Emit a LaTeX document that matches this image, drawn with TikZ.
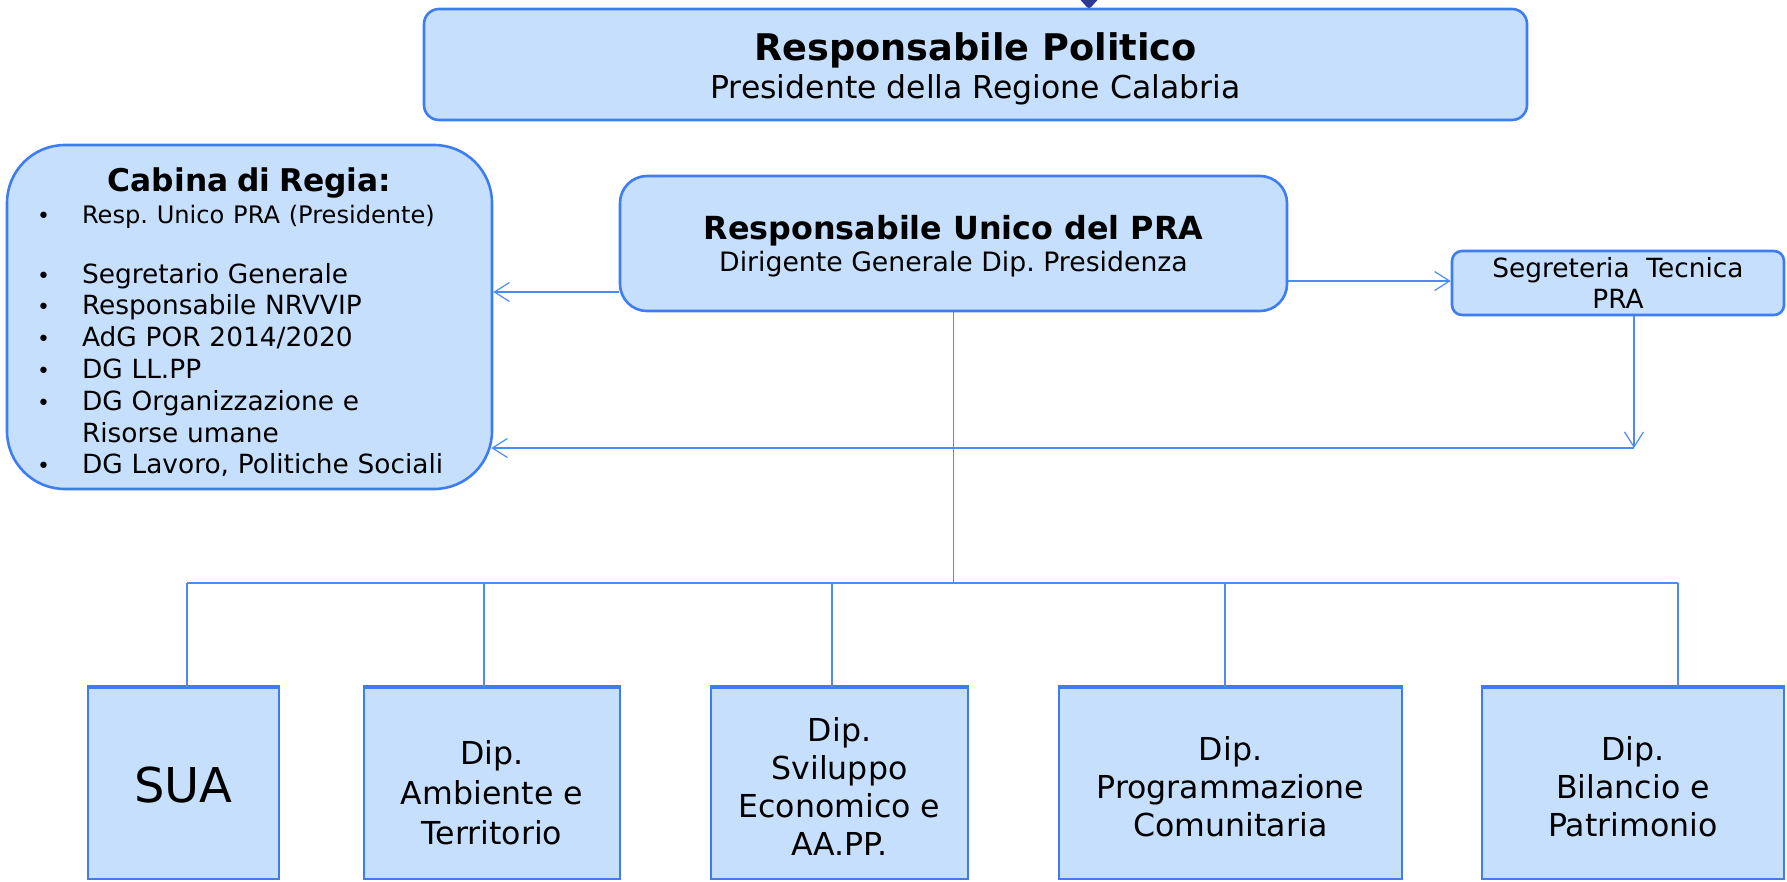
\documentclass[tikz,border=0pt]{standalone}
\usepackage{fontspec}
\setmainfont{DejaVu Sans}
\usepackage{xcolor}
\usepackage{tikz}
\usetikzlibrary{arrows.meta}
\definecolor{bordo}{RGB}{62,125,240}
\definecolor{riemp}{RGB}{197,223,252}
\definecolor{linea}{RGB}{77,138,245}
\definecolor{punta}{RGB}{44,58,150}
\newcommand{\pt}{\makebox[55pt][l]{\hspace{10pt}\fontsize{22}{22}\selectfont •}}
\newcommand{\su}[1]{\rule{0pt}{#1pt}}
\frenchspacing

\begin{document}
\begin{tikzpicture}[
			x = 1pt, y = -1pt,
			box/.style = {draw=bordo, fill=riemp, line width=2.6pt, align=center, inner sep=0pt},
			dip/.style = {box, line width=2.2pt, minimum height=191pt, font=\fontsize{31.6}{38}\selectfont},
			lin/.style = {draw=linea, line width=1.2pt},
			arr/.style = {lin, -{Straight Barb[length=15pt,width=19pt]}}
			]

			\useasboundingbox (0,0) rectangle (1787,881);
			\fill[punta, rounded corners=3pt] (1077,-4) -- (1101,-4) -- (1089,9.5) -- cycle;

			\node[box, rounded corners=15pt, minimum width=1103pt, minimum height=111pt,
				font=\fontsize{31.5}{38}\selectfont] (pol) at (975.5,64.5)
				{{\su{36}\fontsize{36.7}{38}\selectfont\bfseries Responsabile Politico}\\Presidente della Regione Calabria};

			\node[box, rounded corners=58pt, minimum width=485pt, minimum height=344pt, text width=445pt, align=left,
				font=\fontsize{26.4}{31.8}\selectfont] (cab) at (249.5,317)
				{\makebox[\linewidth]{\su{34}\fontsize{31.3}{32}\selectfont\bfseries Cabina di Regia:}\\[1.1pt]
				\pt{\fontsize{24.1}{30}\selectfont Resp. Unico PRA (Presidente)}\\[27.4pt]
				\pt Segretario Generale\\
				\pt Responsabile NRVVIP\\
				\pt AdG POR 2014/2020\\
				\pt DG LL.PP\\
				\pt DG Organizzazione e\\
				\makebox[55pt]{}Risorse umane\\
				\pt DG Lavoro, Politiche Sociali};

			\node[box, rounded corners=27pt, minimum width=667pt, minimum height=135pt,
				font=\fontsize{26.7}{32}\selectfont] (ru) at (953.5,243.5)
				{{\su{29}\fontsize{31.8}{32}\selectfont\bfseries Responsabile Unico del PRA}\\Dirigente Generale Dip. Presidenza};

			\node[box, rounded corners=10pt, minimum width=332pt, minimum height=64pt,
				font=\fontsize{26.4}{31}\selectfont] (seg) at (1618,283) {Segreteria\ \ Tecnica\\PRA};

			\node[dip, minimum width=191pt, font=\fontsize{48}{50}\selectfont] (sua) at (183.5,783.5) {\su{39.6}SUA};
			\node[dip, minimum width=256pt] (amb) at (492,783.5) {\su{42}Dip.\\[2pt]Ambiente e\\[2pt]Territorio};
			\node[dip, minimum width=257pt] (svil) at (839.5,783.5) {\su{29.6}Dip.\\Sviluppo\\Economico e\\AA.PP.};
			\node[dip, minimum width=343pt] (prog) at (1230.5,783.5) {\su{31}Dip.\\Programmazione\\Comunitaria};
			\node[dip, minimum width=302pt] (bil) at (1633,783.5) {\su{31}Dip.\\Bilancio e\\Patrimonio};

			\coordinate (ruL) at ([yshift=-48.5pt]ru.west);
			\draw[arr] (ruL) -- (ruL -| cab.east);
			\coordinate (segL) at ([yshift=2pt]seg.west);
			\draw[arr] (segL -| ru.east) -- (segL);

			\coordinate (segB) at ([xshift=16pt]seg.south);
			\coordinate (ang) at (1634,448);
			\draw[arr] (segB) -- (ang);
			\draw[arr] (ang) -- ([xshift=-2pt]ang -| cab.east);

			\foreach \x/\b [count=\i] in {187/sua, 484/amb, 832/svil, 1225/prog, 1678/bil} {
				\draw[bordo, line width=4pt] (\b.north west) -- (\b.north east);
				\coordinate (tap\i) at (\x,583);
				\draw[lin] (tap\i) -- (tap\i |- \b.north);
			}
			\draw[lin] (tap1) -- (tap5);
			\draw[lin] (ru.south) -- (ru.south |- tap1);

		\end{tikzpicture}
\end{document}
